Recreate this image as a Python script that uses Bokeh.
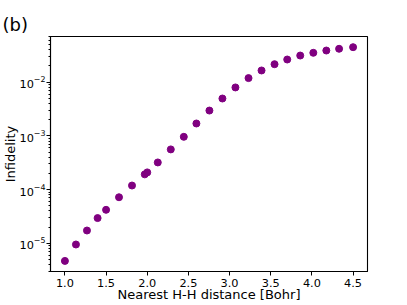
from bokeh.plotting import figure
from bokeh.models import Range1d, FixedTicker, PrintfTickFormatter
from bokeh.embed import file_html
from bokeh.resources import INLINE

# Data
distance = [1.0, 1.134, 1.268, 1.397, 1.5, 1.657, 1.815, 1.97, 2.0, 2.128,
            2.286, 2.444, 2.597, 2.755, 2.913, 3.071, 3.23, 3.388, 3.546,
            3.70, 3.858, 4.017, 4.175, 4.33, 4.5]
infidelity = [4.7e-6, 9.5e-6, 1.73e-5, 2.95e-5, 4.2e-5, 7.2e-5, 1.19e-4,
              1.92e-4, 2.09e-4, 3.2e-4, 5.6e-4, 9.6e-4, 1.7e-3, 2.96e-3,
              4.96e-3, 7.97e-3, 1.19e-2, 1.65e-2, 2.16e-2, 2.64e-2, 3.13e-2,
              3.52e-2, 3.88e-2, 4.18e-2, 4.48e-2]

x_ticks = [1.0, 1.5, 2.0, 2.5, 3.0, 3.5, 4.0, 4.5]
y_ticks = [1e-5, 1e-4, 1e-3, 1e-2]
y_minor = [m * 10.0 ** e for e in range(-6, 0) for m in range(2, 10)]

panel_label = "(b)"
x_label = "Nearest H-H distance [Bohr]"
y_label = "Infidelity"

FONT = "DejaVu Sans"

p = figure(width=407, height=305, y_axis_type="log",
           x_range=Range1d(0.825, 4.675),
           y_range=Range1d(10 ** -5.525, 10 ** -1.15),
           output_backend="svg", toolbar_location=None,
           min_border_left=50, min_border_right=40,
           min_border_top=36, min_border_bottom=34)

p.title.text = panel_label
p.title.align = "left"
p.title.offset = -48
p.title.standoff = 0
p.title.vertical_align = "top"
p.title.text_font = FONT
p.title.text_font_size = "18px"
p.title.text_font_style = "normal"
p.title.text_color = "black"

p.background_fill_color = "white"
p.border_fill_color = "white"
p.outline_line_color = "black"
p.outline_line_width = 1.1
p.xgrid.visible = False
p.ygrid.visible = False

for ax in (p.xaxis[0], p.yaxis[0]):
    ax.axis_line_color = "black"
    ax.axis_line_width = 1.1
    ax.major_tick_line_color = "black"
    ax.minor_tick_line_color = "black"
    ax.major_tick_out = 4
    ax.major_tick_in = 0
    ax.minor_tick_out = 2
    ax.minor_tick_in = 0
    ax.major_label_text_font = FONT
    ax.major_label_text_font_size = "11.3px"
    ax.major_label_text_color = "black"
    ax.axis_label_text_font = FONT
    ax.axis_label_text_font_size = "13px"
    ax.axis_label_text_font_style = "normal"
    ax.axis_label_text_color = "black"

p.xaxis.axis_label = x_label
p.xaxis.major_label_standoff = 3
p.xaxis.axis_label_standoff = -3
p.yaxis.axis_label = y_label
p.yaxis.major_label_standoff = 1
p.yaxis.axis_label_standoff = -2

p.xaxis.ticker = FixedTicker(ticks=x_ticks)
p.xaxis.formatter = PrintfTickFormatter(format="%.1f")
p.yaxis.ticker = FixedTicker(ticks=y_ticks, minor_ticks=y_minor)

p.scatter(distance, infidelity, size=7, color="purple", line_color="purple")

open("out.html", "w").write(file_html(p, INLINE))
